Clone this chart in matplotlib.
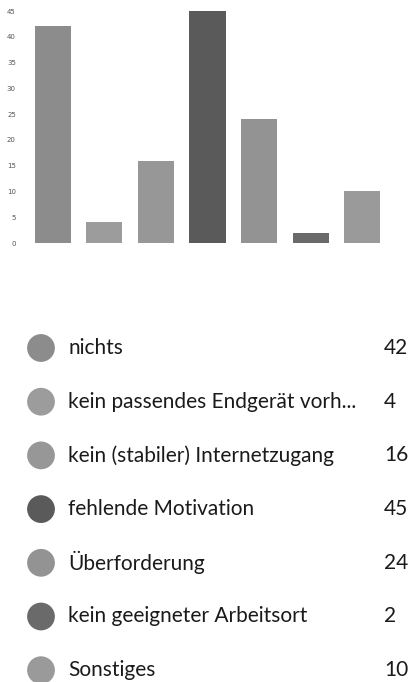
import matplotlib
matplotlib.use('Agg')
import matplotlib.pyplot as plt

# Daten
categories = ["nichts", "kein passendes Endgerät vorh...", "kein (stabiler) Internetzugang",
              "fehlende Motivation", "Überforderung", "kein geeigneter Arbeitsort",
              "Sonstiges"]
counts = [42, 4, 16, 45, 24, 2, 10]
colors = ["#8c8c8c", "#9c9c9c", "#979797", "#5a5a5a", "#939393", "#6a6a6a", "#9a9a9a"]
yticks = list(range(0, 50, 5))

W, H = 408, 682
fig = plt.figure(figsize=(W / 100, H / 100), dpi=100)

# Balkendiagramm
ax = fig.add_axes([27 / W, (H - 243) / H, 361 / W, 232 / H])
x = range(len(counts))
ax.bar(x, counts, width=0.7, color=colors)
ax.set_xlim(-0.5, len(counts) - 0.5)
ax.set_ylim(0, 45)
ax.set_yticks(yticks)
ax.set_yticklabels([str(v) for v in yticks], fontsize=5, color="#555555")
ax.tick_params(axis="y", length=0, pad=8)
ax.set_xticks([])
for s in ax.spines.values():
    s.set_visible(False)

# Legende
lg = fig.add_axes([0, 0, 1, 1])
lg.set_xlim(0, W)
lg.set_ylim(H, 0)
lg.axis("off")
rows = [348 + 53.7 * i for i in range(len(categories))]
lg.scatter([41] * len(rows), rows, s=400, c=colors, edgecolors="none")
for r, name, n in zip(rows, categories, counts):
    lg.text(68, r, name, fontsize=15, family="Lato", color="#1a1a1a",
            va="center", ha="left")
    lg.text(384, r, str(n), fontsize=15, family="Lato", color="#1a1a1a",
            va="center", ha="left")

fig.savefig("out.png", dpi=100)
